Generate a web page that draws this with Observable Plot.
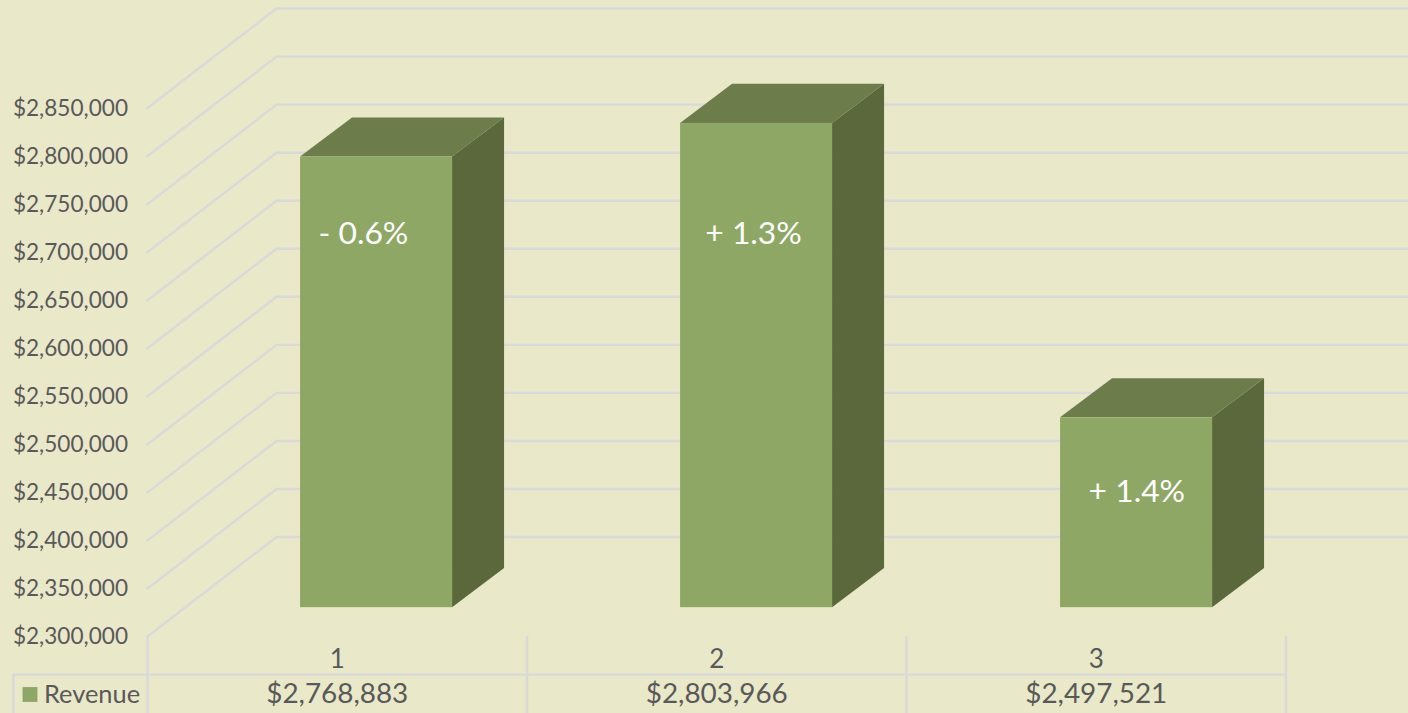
<!DOCTYPE html>
<html>
<head>
<meta charset="utf-8">
<script src="https://cdn.jsdelivr.net/npm/d3@7"></script>
<script src="https://cdn.jsdelivr.net/npm/@observablehq/plot@0.6"></script>
<style>
html,body{margin:0;padding:0;background:#E9E8C9;overflow:hidden}
svg{display:block}
</style>
</head>
<body>
<script>
const categories = [1, 2, 3];
const revenue = [2768883, 2803966, 2497521];
const changeLabels = ["- 0.6%", "+ 1.3%", "+ 1.4%"];
const changeLabelValues = [2719000, 2719000, 2451000];
const changeLabelPositions = [0.569, 1.597, 2.607];
const yTicks = d3.range(2300000, 2850001, 50000);
const seriesName = "Revenue";

const yMin = 2300000, yMax = 2850000;
const xMax = (1408 - 147) / 379.5;
// projection of the chart's depth axis, in scale units
const depthX = 129 / 379.5;
const depthY = 103500;
const barFront = 0.29, barWidth = 0.4005, barNudge = 0.005, barStep = 380 / 379.5;
const barDepthX = 52 / 379.5, barDepthY = 40800;
const rowTop = 2260300, rowBottom = 2219000, tableLeft = -0.3535;

const money = d3.format("$,");
const bars = categories.map((c, i) => {
  const x1 = i * barStep + 0.5 - barWidth / 2 + barFront * depthX + barNudge;
  return {c, x1, x2: x1 + barWidth, y1: yMin + barFront * depthY, y2: revenue[i] + barFront * depthY};
});
const topFace = bars.flatMap(b => [
  {c: b.c, y: b.y2, x1: b.x1, x2: b.x2},
  {c: b.c, y: b.y2 + barDepthY, x1: b.x1 + barDepthX, x2: b.x2 + barDepthX}
]);
const sideFace = bars.flatMap(b => [
  {c: b.c, x: b.x2, y1: b.y1, y2: b.y2},
  {c: b.c, x: b.x2 + barDepthX, y1: b.y1 + barDepthY, y2: b.y2 + barDepthY}
]);
const grid = yTicks.flatMap(v => [
  {v, x: 0, y: v},
  {v, x: depthX, y: v + depthY},
  {v, x: xMax, y: v + depthY}
]);
const tableEdges = [0, 1, 2, 3];

const ink = "#595959", ruleColor = "#D9D9D9", faceColor = "#8EA765", topColor = "#6C7C4B", sideColor = "#5A683B";
const font = "Lato, sans-serif";

const chart = Plot.plot({
  width: 1408, height: 713,
  marginLeft: 147, marginRight: 0, marginTop: 107.5, marginBottom: 77,
  style: {background: "#E9E8C9", color: ink, fontFamily: font, overflow: "visible"},
  x: {domain: [0, xMax], range: [147, 1408], axis: null},
  y: {domain: [yMin, yMax], range: [636, 107.5], axis: null},
  marks: [
    Plot.line(grid, {x: "x", y: "y", z: "v", stroke: ruleColor, strokeWidth: 2.4, curve: "linear"}),
    Plot.axisY({ticks: yTicks, tickSize: 0, tickPadding: 19.5, tickFormat: money, label: null,
      fontSize: 22.6, dy: 0.5, fontFamily: font}),
    Plot.ruleX(tableEdges, {x: e => e, y1: rowBottom, y2: yMin, stroke: ruleColor, strokeWidth: 2.4}),
    Plot.ruleX([tableLeft], {x: e => e, y1: rowBottom, y2: rowTop, stroke: ruleColor, strokeWidth: 2.4}),
    Plot.ruleY([rowTop], {y: v => v, x1: tableLeft, x2: 3, stroke: ruleColor, strokeWidth: 2.4}),
    Plot.areaY(sideFace, {x: "x", y1: "y1", y2: "y2", z: "c", fill: sideColor}),
    Plot.areaX(topFace, {y: "y", x1: "x1", x2: "x2", z: "c", fill: topColor}),
    Plot.rect(bars, {x1: "x1", x2: "x2", y1: "y1", y2: "y2", fill: faceColor}),
    Plot.text(changeLabels, {
      x: (_, i) => changeLabelPositions[i], y: (_, i) => changeLabelValues[i],
      text: t => t, fill: "white", fontSize: 31.8, fontFamily: font}),
    Plot.text(categories, {x: c => c - 0.5, y: () => yMin, dy: 23, text: c => String(c), fontSize: 26, fill: ink, fontFamily: font}),
    Plot.text(revenue, {x: (_, i) => i + 0.5, y: () => yMin, dy: 58, text: v => money(v), fontSize: 27.9, fill: ink, fontFamily: font}),
    Plot.dot([seriesName], {frameAnchor: "bottom-left", dx: -117.5, dy: 58, symbol: "square", r: 8.4, fill: faceColor, stroke: "none"}),
    Plot.text([seriesName], {frameAnchor: "bottom-left", lineAnchor: "middle", dx: -103.5, dy: 58, textAnchor: "start", text: t => t, fontSize: 25.4, fill: ink, fontFamily: font})
  ]
});
document.body.appendChild(chart);
</script>
</body>
</html>
